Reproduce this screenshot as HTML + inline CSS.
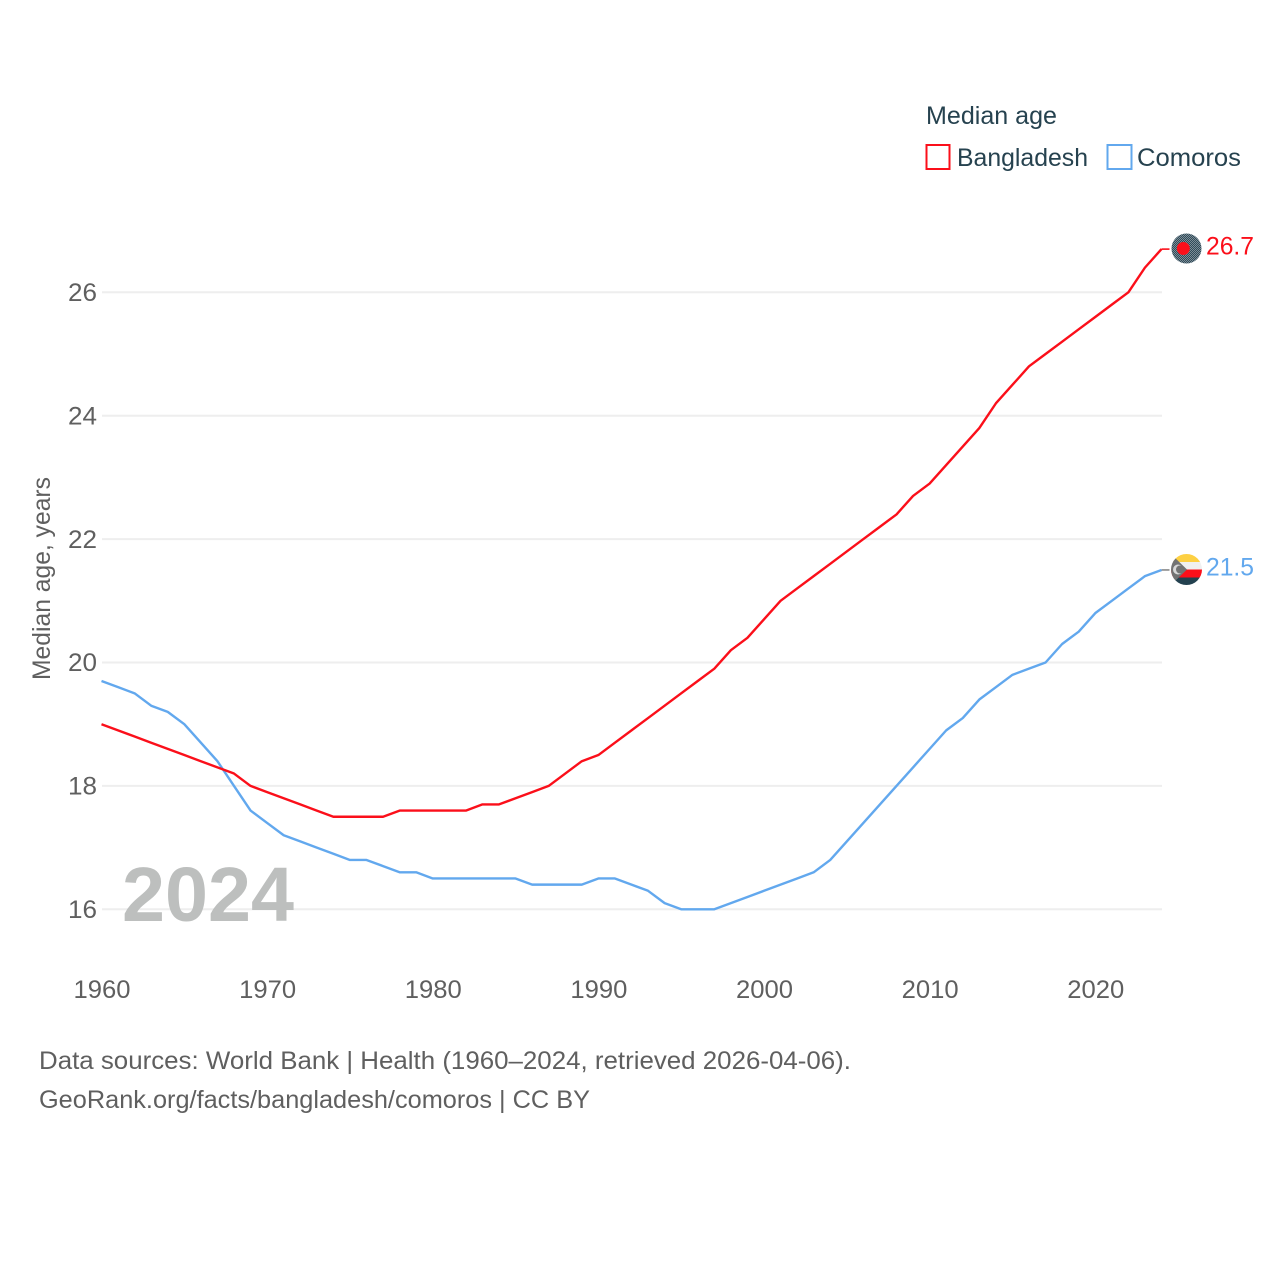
<!DOCTYPE html>
<html>
<head>
<meta charset="utf-8">
<style>
html,body{margin:0;padding:0;background:#fff;}
svg{display:block;}
text{font-family:"Liberation Sans",sans-serif;}
</style>
</head>
<body>
<svg id="chart" xmlns="http://www.w3.org/2000/svg" width="1280" height="1280" viewBox="0 0 1280 1280">
  <defs>
    <clipPath id="clip-bd"><circle cx="1186.5" cy="248.5" r="15"/></clipPath>
    <clipPath id="clip-km"><circle cx="1186.5" cy="569.5" r="15.5"/></clipPath>
    <pattern id="dither" width="2" height="2" patternUnits="userSpaceOnUse">
      <rect width="2" height="2" fill="#2f4b59"/>
      <rect width="1" height="1" fill="#7d8d96"/>
      <rect x="1" y="1" width="1" height="1" fill="#7d8d96"/>
    </pattern>
  </defs>
  <g id="grid"></g>
  <g id="y-ticks"></g>
  <g id="x-ticks"></g>
  <text transform="translate(50,680) rotate(-90)" font-size="25" fill="#5f5f5f" textLength="203" lengthAdjust="spacingAndGlyphs">Median age, years</text>
  <text x="122" y="921" font-size="77" font-weight="bold" fill="#bdbfbe" textLength="172" lengthAdjust="spacingAndGlyphs">2024</text>
  <g id="series"></g>

  <g clip-path="url(#clip-bd)">
    <rect x="1170" y="232" width="34" height="34" fill="url(#dither)"/>
    <circle cx="1183.3" cy="248.5" r="6.5" fill="#fb0f1a"/>
  </g>
  <g clip-path="url(#clip-km)">
    <rect x="1170" y="553" width="34" height="9" fill="#fdd043"/>
    <rect x="1170" y="562" width="34" height="7.5" fill="#f0f0f0"/>
    <rect x="1170" y="569.5" width="34" height="8" fill="#fb0f1a"/>
    <rect x="1170" y="577.5" width="34" height="9" fill="#23414f"/>
    <polygon points="1170,553 1187,569.5 1170,586" fill="#737373"/>
    <circle cx="1178" cy="569.5" r="5" fill="#d8d8d8"/>
    <circle cx="1180" cy="569.5" r="4" fill="#737373"/>
  </g>
  <g id="end-labels"></g>

  <g>
    <text x="926" y="124" font-size="25" fill="#26424f" textLength="131" lengthAdjust="spacingAndGlyphs">Median age</text>
    <g>
      <rect x="926.5" y="145" width="23" height="24" fill="#fff" stroke="#fb0f1a" stroke-width="2"/>
      <text x="957" y="166" font-size="25" fill="#26424f" textLength="131" lengthAdjust="spacingAndGlyphs">Bangladesh</text>
    </g>
    <g>
      <rect x="1107.5" y="145" width="24" height="24" fill="#fff" stroke="#62a8ee" stroke-width="2"/>
      <text x="1137" y="166" font-size="25" fill="#26424f" textLength="104" lengthAdjust="spacingAndGlyphs">Comoros</text>
    </g>
  </g>

  <g>
    <text x="39" y="1069" font-size="25" fill="#5f5f5f" textLength="812" lengthAdjust="spacingAndGlyphs">Data sources: World Bank | Health (1960–2024, retrieved 2026-04-06).</text>
    <text x="39" y="1108" font-size="25" fill="#5f5f5f" textLength="551" lengthAdjust="spacingAndGlyphs">GeoRank.org/facts/bangladesh/comoros | CC BY</text>
  </g>
</svg>
<script>
const startYear = 1960;
const xTickLabels = [1960, 1970, 1980, 1990, 2000, 2010, 2020];
const yTickLabels = [16, 18, 20, 22, 24, 26];
const bangladeshValues = [19.0,18.9,18.8,18.7,18.6,18.5,18.4,18.3,18.2,18.0,17.9,17.8,17.7,17.6,17.5,17.5,17.5,17.5,17.6,17.6,17.6,17.6,17.6,17.7,17.7,17.8,17.9,18.0,18.2,18.4,18.5,18.7,18.9,19.1,19.3,19.5,19.7,19.9,20.2,20.4,20.7,21.0,21.2,21.4,21.6,21.8,22.0,22.2,22.4,22.7,22.9,23.2,23.5,23.8,24.2,24.5,24.8,25.0,25.2,25.4,25.6,25.8,26.0,26.4,26.7];
const comorosValues = [19.7,19.6,19.5,19.3,19.2,19.0,18.7,18.4,18.0,17.6,17.4,17.2,17.1,17.0,16.9,16.8,16.8,16.7,16.6,16.6,16.5,16.5,16.5,16.5,16.5,16.5,16.4,16.4,16.4,16.4,16.5,16.5,16.4,16.3,16.1,16.0,16.0,16.0,16.1,16.2,16.3,16.4,16.5,16.6,16.8,17.1,17.4,17.7,18.0,18.3,18.6,18.9,19.1,19.4,19.6,19.8,19.9,20.0,20.3,20.5,20.8,21.0,21.2,21.4,21.5];

const NS = 'http://www.w3.org/2000/svg';
const xScale = function (year) { return 101.5 + (year - 1960) * (1161.5 - 101.5) / 64; };
const yScale = function (v) { return 909.3 - (v - 16) * (909.3 - 292.3) / 10; };

function make(tag, parent, attrs) {
  const el = document.createElementNS(NS, tag);
  for (const k in attrs) el.setAttribute(k, attrs[k]);
  parent.appendChild(el);
  return el;
}

const grid = document.getElementById('grid');
const yTicks = document.getElementById('y-ticks');
const xTicks = document.getElementById('x-ticks');
const seriesGroup = document.getElementById('series');
const endLabels = document.getElementById('end-labels');

yTickLabels.forEach(function (v) {
  const line = make('line', grid, {x1: 102, x2: 1162, y1: yScale(v), y2: yScale(v), stroke: '#eeeeee', 'stroke-width': 2});
  
  
  const t = make('text', yTicks, {x: 97, y: yScale(v) + 8.7, 'text-anchor': 'end', 'font-size': 25, fill: '#5f5f5f', textLength: 29, lengthAdjust: 'spacingAndGlyphs'});
  
  
  t.textContent = v;
});

xTickLabels.forEach(function (yr) {
  const t = make('text', xTicks, {x: xScale(yr) - 28, y: 998, 'font-size': 25, fill: '#5f5f5f', textLength: 57, lengthAdjust: 'spacingAndGlyphs'});
  
  
  t.textContent = yr;
});

function drawSeries(values, color, name, connectorColor) {
  const pts = values.map(function (v, i) { return xScale(startYear + i).toFixed(2) + ',' + yScale(v).toFixed(2); }).join(' ');
  const line = make('polyline', seriesGroup, {points: pts, fill: 'none', stroke: color, 'stroke-width': 2.4, 'stroke-linejoin': 'round'});
  
  
  const last = values[values.length - 1];
  const lastX = xScale(startYear + values.length - 1);
  const conn = make('line', seriesGroup, {x1: lastX, x2: lastX + 8, y1: yScale(last), y2: yScale(last), stroke: connectorColor, 'stroke-width': 1.6});
  
  
  const label = make('text', endLabels, {x: 1206, y: yScale(last) + 5.3, 'font-size': 25, fill: color, textLength: 48, lengthAdjust: 'spacingAndGlyphs'});
  
  
  label.textContent = last.toFixed(1);
}

drawSeries(comorosValues, '#62a8ee', 'comoros', '#888888');
drawSeries(bangladeshValues, '#fb0f1a', 'bangladesh', '#fb0f1a');
</script>
</body>
</html>
